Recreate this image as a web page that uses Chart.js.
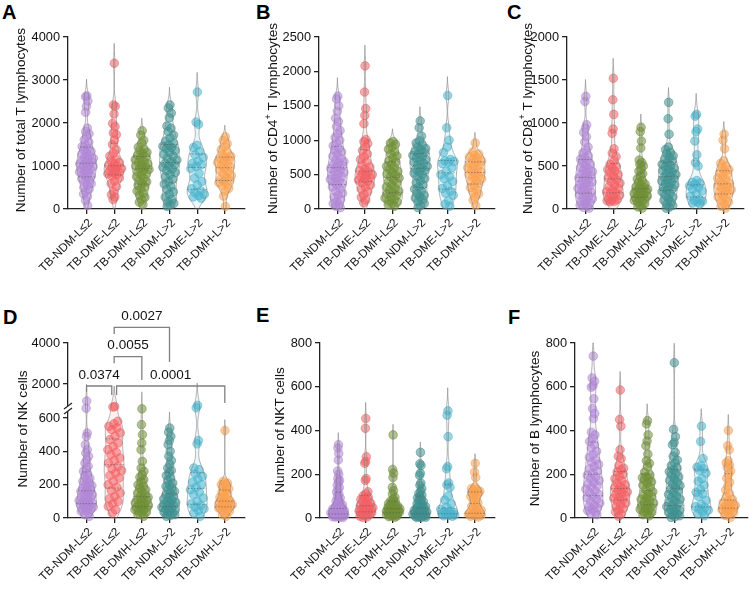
<!DOCTYPE html>
<html>
<head>
<meta charset="utf-8">
<script src="https://cdn.jsdelivr.net/npm/chart.js@4.4.1/dist/chart.umd.min.js"></script>
<style>
  html, body { margin: 0; padding: 0; background: #fff; }
  #fig { position: relative; width: 753px; height: 591px; overflow: hidden; background: #fff;
         font-family: "Liberation Sans", Arial, sans-serif; }
  #fig canvas { position: absolute; }
  .tag { position: absolute; font-weight: bold; font-size: 20px; line-height: 20px; color: #000; }
</style>
</head>
<body>
<div id="fig">
  <div class="tag" style="left:2px;top:2px">A</div>
  <div class="tag" style="left:256px;top:2px">B</div>
  <div class="tag" style="left:507px;top:2px">C</div>
  <div class="tag" style="left:3px;top:307px">D</div>
  <div class="tag" style="left:256px;top:305px">E</div>
  <div class="tag" style="left:508px;top:307px">F</div>
</div>
<script>
// groups on the x axis
const groups = ["TB-NDM-L≤2", "TB-DME-L≤2", "TB-DMH-L≤2", "TB-NDM-L>2", "TB-DME-L>2", "TB-DMH-L>2"];

// tick labels
const totalTTicks = [0, 1000, 2000, 3000, 4000];
const cd4Ticks = [0, 500, 1000, 1500, 2000, 2500];
const cd8Ticks = [0, 500, 1000, 1500, 2000];
const nkTicks = [0, 200, 400, 600, 2000, 4000];
const nktTicks = [0, 200, 400, 600, 800];
const bTicks = [0, 200, 400, 600, 800];

// values, one list per group
const totalT = [
  [2630, 2610, 2510, 2390, 2250, 1880, 1800, 1750, 1690, 1610, 1560, 1490, 1450, 1410, 1370, 1340, 1300, 1270, 1240, 1210, 1180, 1160, 1130, 1100, 1080, 1050, 1030, 1010, 990, 960, 940, 910, 880, 860, 830, 800, 770, 740, 700, 670, 630, 590, 550, 500, 460, 410, 350, 290, 200, 80],
  [3390, 2420, 2390, 2210, 1990, 1920, 1770, 1730, 1600, 1500, 1380, 1300, 1230, 1160, 1110, 1080, 1050, 1020, 990, 960, 940, 910, 890, 860, 840, 820, 800, 770, 720, 650, 590, 520, 400, 330, 280, 220],
  [1820, 1720, 1600, 1530, 1440, 1390, 1350, 1320, 1290, 1250, 1210, 1180, 1150, 1110, 1080, 1050, 1020, 1000, 980, 950, 920, 890, 860, 820, 790, 750, 710, 670, 630, 590, 550, 510, 470, 420, 370, 320, 270, 220, 160, 100],
  [2420, 2350, 2230, 2120, 1930, 1880, 1800, 1720, 1650, 1580, 1530, 1490, 1460, 1430, 1400, 1360, 1320, 1270, 1230, 1180, 1140, 1100, 1060, 1030, 1000, 970, 930, 890, 850, 800, 750, 690, 640, 580, 520, 460, 400, 340, 280, 220, 170, 130, 100, 60],
  [2720, 2020, 1970, 1480, 1430, 1340, 1260, 1200, 1110, 1060, 1030, 990, 940, 830, 720, 640, 560, 470, 420, 380, 340, 310, 280, 250],
  [1680, 1600, 1520, 1450, 1380, 1320, 1260, 1230, 1200, 1170, 1140, 1110, 1080, 1050, 1010, 980, 940, 900, 860, 820, 780, 740, 700, 670, 640, 610, 580, 540, 480, 420, 300, 60]
];
const cd4T = [
  [1640, 1600, 1500, 1420, 1320, 1270, 1200, 1140, 1090, 1040, 1000, 960, 920, 880, 850, 830, 800, 770, 740, 710, 690, 670, 650, 630, 610, 590, 570, 550, 530, 510, 490, 470, 450, 430, 410, 390, 370, 350, 320, 290, 260, 230, 200, 170, 140, 110, 80, 60, 40, 20],
  [2080, 1700, 1460, 1360, 1240, 1010, 980, 950, 900, 850, 800, 760, 720, 680, 640, 610, 580, 560, 540, 520, 500, 485, 470, 455, 440, 420, 400, 380, 350, 320, 290, 250, 210, 170, 130, 90],
  [980, 960, 940, 900, 870, 830, 800, 770, 740, 700, 680, 650, 620, 600, 580, 550, 530, 510, 490, 470, 450, 420, 400, 380, 350, 320, 300, 280, 260, 240, 220, 200, 180, 160, 140, 120, 100, 80, 60, 40],
  [1280, 1180, 1060, 990, 960, 930, 900, 880, 860, 840, 820, 800, 780, 760, 740, 720, 700, 680, 660, 640, 620, 600, 580, 560, 540, 520, 500, 470, 440, 410, 380, 350, 320, 290, 260, 230, 200, 180, 160, 140, 110, 80, 50, 20],
  [1650, 1180, 1000, 900, 820, 720, 700, 690, 680, 660, 600, 550, 500, 470, 440, 400, 340, 300, 260, 230, 200, 120, 70, 40],
  [960, 830, 800, 780, 760, 740, 720, 700, 680, 660, 640, 620, 600, 580, 560, 540, 520, 500, 480, 460, 440, 420, 400, 370, 340, 310, 280, 250, 220, 180, 130, 50]
];
const cd8T = [
  [1310, 1250, 980, 940, 890, 840, 780, 720, 680, 650, 620, 600, 580, 560, 540, 520, 500, 480, 465, 450, 435, 420, 405, 390, 375, 360, 345, 330, 315, 300, 285, 270, 255, 240, 225, 210, 195, 180, 165, 150, 135, 120, 105, 90, 75, 60, 45, 30, 20, 10],
  [1520, 1270, 1100, 930, 880, 700, 650, 610, 560, 520, 500, 480, 460, 440, 420, 400, 380, 360, 340, 320, 300, 280, 260, 240, 220, 200, 190, 180, 160, 140, 120, 110, 100, 95, 90, 85],
  [950, 900, 790, 710, 570, 540, 520, 500, 470, 440, 410, 380, 350, 330, 310, 290, 275, 260, 250, 240, 230, 220, 210, 200, 190, 180, 170, 160, 150, 140, 130, 120, 110, 100, 90, 80, 60, 40, 25, 10],
  [1240, 1050, 870, 720, 690, 660, 640, 620, 600, 580, 560, 540, 520, 505, 490, 475, 460, 445, 430, 415, 400, 385, 370, 355, 340, 325, 310, 295, 280, 265, 250, 235, 220, 200, 180, 160, 140, 120, 100, 80, 60, 40, 20, 10],
  [1100, 1080, 930, 900, 790, 630, 540, 500, 330, 310, 300, 290, 270, 250, 230, 210, 180, 150, 110, 100, 90, 80, 70, 60],
  [870, 800, 700, 560, 530, 500, 480, 460, 440, 420, 400, 380, 360, 340, 320, 300, 285, 270, 255, 240, 225, 210, 195, 180, 160, 140, 120, 100, 80, 60, 30, 10]
];
const nkCells = [
  [1170, 820, 510, 490, 440, 410, 390, 370, 350, 330, 310, 295, 280, 265, 250, 240, 230, 220, 210, 200, 195, 190, 180, 170, 165, 160, 150, 145, 140, 130, 125, 120, 110, 105, 100, 95, 90, 85, 80, 75, 70, 65, 60, 55, 50, 45, 40, 30, 20, 10],
  [900, 880, 580, 565, 550, 540, 530, 510, 490, 470, 450, 430, 410, 395, 380, 360, 345, 330, 310, 295, 285, 270, 255, 240, 220, 200, 185, 165, 150, 130, 115, 100, 85, 70, 50, 30],
  [790, 560, 500, 450, 410, 340, 300, 280, 260, 245, 230, 215, 200, 190, 180, 170, 160, 150, 140, 132, 125, 118, 110, 104, 98, 92, 86, 80, 75, 70, 65, 60, 55, 50, 45, 40, 35, 30, 20, 10],
  [540, 515, 490, 465, 440, 400, 370, 345, 320, 300, 285, 270, 255, 240, 225, 210, 200, 190, 180, 170, 160, 150, 140, 130, 122, 115, 108, 100, 94, 88, 82, 76, 70, 64, 58, 52, 46, 40, 35, 30, 25, 20, 15, 10],
  [960, 840, 465, 445, 300, 290, 265, 250, 235, 215, 200, 185, 170, 155, 140, 120, 100, 85, 75, 65, 55, 45, 30, 10],
  [525, 220, 210, 205, 200, 195, 185, 175, 165, 155, 145, 135, 125, 118, 110, 104, 98, 92, 88, 84, 80, 76, 72, 68, 64, 60, 55, 50, 40, 30, 20, 10]
];
const nktCells = [
  [335, 320, 295, 265, 215, 200, 180, 172, 165, 150, 140, 130, 120, 110, 100, 92, 85, 78, 72, 66, 60, 56, 52, 48, 45, 42, 39, 36, 34, 32, 30, 28, 26, 24, 22, 20, 19, 18, 16, 15, 14, 12, 11, 10, 9, 8, 6, 5, 4, 2],
  [455, 410, 280, 258, 250, 180, 172, 120, 110, 102, 95, 90, 85, 80, 74, 68, 63, 58, 54, 50, 47, 44, 41, 38, 35, 32, 29, 26, 23, 20, 17, 14, 11, 8, 5, 2],
  [380, 222, 205, 185, 140, 125, 110, 95, 85, 80, 75, 70, 66, 62, 58, 55, 52, 49, 46, 44, 42, 40, 38, 36, 34, 32, 30, 28, 26, 24, 22, 20, 18, 16, 14, 12, 10, 8, 6, 4],
  [300, 248, 240, 205, 195, 160, 150, 135, 122, 112, 105, 98, 92, 86, 80, 75, 70, 65, 60, 56, 52, 48, 45, 42, 39, 36, 33, 30, 28, 26, 24, 22, 20, 18, 16, 14, 12, 10, 8, 7, 6, 4, 3, 2],
  [490, 470, 372, 235, 225, 160, 152, 140, 100, 82, 65, 50, 40, 32, 28, 25, 22, 20, 18, 16, 14, 12, 10, 8],
  [250, 210, 185, 142, 135, 130, 126, 122, 118, 114, 110, 105, 98, 90, 80, 70, 62, 55, 48, 42, 36, 30, 26, 22, 20, 18, 16, 14, 12, 10, 8, 5]
];
const bCells = [
  [740, 640, 625, 605, 598, 545, 500, 478, 455, 392, 380, 365, 350, 335, 320, 305, 290, 278, 265, 255, 245, 235, 225, 215, 205, 196, 188, 180, 172, 164, 156, 148, 140, 132, 124, 116, 108, 100, 92, 84, 76, 68, 60, 52, 46, 40, 34, 28, 22, 15],
  [585, 450, 420, 312, 282, 272, 240, 228, 220, 210, 200, 190, 180, 170, 160, 152, 145, 138, 132, 126, 120, 114, 108, 102, 96, 90, 84, 76, 68, 60, 52, 44, 36, 28, 18, 8],
  [445, 430, 380, 352, 330, 292, 262, 250, 235, 210, 198, 190, 184, 178, 172, 165, 158, 150, 140, 130, 120, 112, 105, 98, 92, 86, 80, 74, 68, 62, 56, 50, 45, 40, 35, 30, 25, 20, 15, 10],
  [710, 405, 372, 345, 335, 300, 282, 265, 252, 240, 230, 220, 212, 204, 196, 188, 180, 172, 164, 156, 148, 140, 132, 124, 116, 108, 100, 93, 86, 79, 72, 65, 58, 52, 46, 40, 35, 30, 25, 20, 15, 10, 6, 3],
  [420, 350, 272, 240, 232, 225, 218, 205, 180, 168, 150, 130, 118, 110, 98, 80, 62, 52, 48, 42, 36, 28, 20, 10],
  [400, 330, 312, 262, 252, 242, 232, 215, 200, 182, 164, 146, 128, 112, 98, 86, 78, 72, 66, 62, 58, 54, 50, 46, 42, 38, 34, 30, 25, 20, 12, 2]
];

// comparisons shown on panel D
const nkBrackets = [
  { from: 1, to: 3, p: "0.0027" },
  { from: 1, to: 2, p: "0.0055" },
  { from: 0, to: 1, p: "0.0374" },
  { from: 1, to: 5, p: "0.0001" }
];

// ---- styling / layout ----
const groupColors = [[177, 134, 214], [242, 96, 100], [112, 143, 52], [62, 143, 143], [72, 181, 206], [250, 161, 80]];
const rgba = (c, a) => `rgba(${c[0]},${c[1]},${c[2]},${a})`;
const FONT = '"Liberation Sans", Arial, Helvetica, sans-serif';
const AXIS = "#222";
const W_HALF = 0.36;   // violin half width, in category units

// bracket geometry, px relative to the top of the plot area
const nkBracketLayout = [
  { bar: -15.7, left: -9, right: 19, text: -27, dx1: 0, dx2: 0 },
  { bar: 13.7, left: 20.3, right: 37, text: 2.7, dx1: 0, dx2: 0 },
  { bar: 43, left: 48.7, right: 52, text: 32.3, dx1: 0, dx2: -2.4 },
  { bar: 43, left: 52, right: 60, text: 32.3, dx1: 2.4, dx2: 0 }
];

Chart.defaults.font.family = FONT;
Chart.defaults.color = "#111";

// broken y axis for panel D: 0-636 on the lower part, 636-4000 above
const NK_BREAK = 636, NK_MAX = 4000, NK_LOW = 106 / 175;
function nkFrac(v) {
  return v <= NK_BREAK ? v / NK_BREAK * NK_LOW : NK_LOW + (v - NK_BREAK) / (NK_MAX - NK_BREAK) * (1 - NK_LOW);
}
function nkInv(t) {
  return t <= NK_LOW ? t / NK_LOW * NK_BREAK : NK_BREAK + (t - NK_LOW) / (1 - NK_LOW) * (NK_MAX - NK_BREAK);
}

class BrokenScale extends Chart.LinearScale {
  getPixelForValue(value) {
    return this.bottom - nkFrac(value) * (this.bottom - this.top);
  }
  getValueForPixel(pixel) {
    return nkInv((this.bottom - pixel) / (this.bottom - this.top));
  }
}
BrokenScale.id = "broken";
BrokenScale.defaults = Chart.LinearScale.defaults;
Chart.register(BrokenScale);

function quantile(sorted, q) {
  const pos = (sorted.length - 1) * q;
  const lo = Math.floor(pos), hi = Math.ceil(pos);
  return sorted[lo] + (sorted[hi] - sorted[lo]) * (pos - lo);
}

// kernel density on the axis fraction, so the break in D is handled too
function buildModel(vals, frac) {
  const t = vals.map(frac);
  const n = t.length;
  const mean = t.reduce((a, b) => a + b, 0) / n;
  const sd = Math.sqrt(t.reduce((a, b) => a + (b - mean) ** 2, 0) / (n - 1));
  const h = Math.max(0.5 * 1.06 * sd * Math.pow(n, -0.2), 0.018);
  const dens = (x) => t.reduce((s, ti) => s + Math.exp(-0.5 * ((x - ti) / h) ** 2), 0);
  const lo = Math.max(0, Math.min(...t) - 2.6 * h);
  const hi = Math.min(1, Math.max(...t) + 2.6 * h);
  const grid = [];
  let maxD = 0;
  for (let k = 0; k <= 140; k++) {
    const x = lo + (hi - lo) * k / 140;
    const d = dens(x);
    grid.push([x, d]);
    maxD = Math.max(maxD, d);
  }
  const s = vals.slice().sort((a, b) => a - b);
  const qs = [0.25, 0.5, 0.75].map((q) => frac(quantile(s, q)));
  return { t, dens, grid, maxD, qs };
}

function tracePath(ctx, xs, ys, m, gi, inv) {
  ctx.beginPath();
  m.grid.forEach(([t, d], k) => {
    const px = xs.getPixelForValue(gi + W_HALF * d / m.maxD);
    const py = ys.getPixelForValue(inv(t));
    if (k) ctx.lineTo(px, py); else ctx.moveTo(px, py);
  });
  for (let k = m.grid.length - 1; k >= 0; k--) {
    const [t, d] = m.grid[k];
    ctx.lineTo(xs.getPixelForValue(gi - W_HALF * d / m.maxD), ys.getPixelForValue(inv(t)));
  }
  ctx.closePath();
}

function violinPlugin(models, inv) {
  return {
    id: "violins",
    beforeDatasetsDraw(chart) {
      const { ctx, scales: { x, y } } = chart;
      models.forEach((m, gi) => {
        ctx.save();
        tracePath(ctx, x, y, m, gi, inv);
        ctx.fillStyle = rgba(groupColors[gi], 0.1);
        ctx.fill();
        ctx.restore();
      });
    },
    afterDatasetsDraw(chart) {
      const { ctx, scales: { x, y } } = chart;
      models.forEach((m, gi) => {
        ctx.save();
        tracePath(ctx, x, y, m, gi, inv);
        ctx.strokeStyle = "rgba(120,120,120,0.7)";
        ctx.lineWidth = 0.8;
        ctx.stroke();
        ctx.setLineDash([1.5, 1.5]);
        ctx.strokeStyle = "rgba(90,90,90,0.75)";
        m.qs.forEach((tq) => {
          const w = W_HALF * m.dens(tq) / m.maxD;
          const py = y.getPixelForValue(inv(tq));
          ctx.beginPath();
          ctx.moveTo(x.getPixelForValue(gi - w), py);
          ctx.lineTo(x.getPixelForValue(gi + w), py);
          ctx.stroke();
        });
        ctx.restore();
      });
    }
  };
}

// rotated y-axis title; parts with sup:true are drawn small and raised
function titlePlugin(parts, cx, cy) {
  return {
    id: "yTitle",
    afterDraw(chart) {
      const ctx = chart.ctx;
      const big = `13.6px ${FONT}`, small = `9px ${FONT}`;
      ctx.save();
      ctx.translate(cx, cy);
      ctx.rotate(-Math.PI / 2);
      ctx.fillStyle = "#111";
      ctx.textBaseline = "middle";
      ctx.textAlign = "left";
      const widths = parts.map((p) => { ctx.font = p.sup ? small : big; return ctx.measureText(p.text).width; });
      let x = -widths.reduce((a, b) => a + b, 0) / 2;
      parts.forEach((p, i) => {
        ctx.font = p.sup ? small : big;
        ctx.fillText(p.text, x, p.sup ? -5 : 0);
        x += widths[i];
      });
      ctx.restore();
    }
  };
}

const breakPlugin = {
  id: "axisBreak",
  afterDraw(chart) {
    const { ctx, scales: { y } } = chart;
    const xb = y.right;
    const yb = y.getPixelForValue(NK_BREAK);
    ctx.save();
    ctx.fillStyle = "#fff";
    ctx.fillRect(xb - 3, yb - 6, 6, 5);
    ctx.strokeStyle = AXIS;
    ctx.lineWidth = 1.2;
    [yb - 6, yb - 1].forEach((y0) => {
      ctx.beginPath();
      ctx.moveTo(xb - 4, y0 + 3);
      ctx.lineTo(xb + 4, y0 - 3);
      ctx.stroke();
    });
    ctx.restore();
  }
};

const bracketPlugin = {
  id: "brackets",
  afterDraw(chart) {
    const { ctx, chartArea: { top }, scales: { x } } = chart;
    ctx.save();
    ctx.strokeStyle = "rgb(128,128,128)";
    ctx.lineWidth = 1.3;
    ctx.fillStyle = "#111";
    ctx.font = `13.5px ${FONT}`;
    ctx.textAlign = "center";
    ctx.textBaseline = "middle";
    nkBrackets.forEach((b, k) => {
      const g = nkBracketLayout[k];
      const x1 = x.getPixelForValue(b.from) + g.dx1;
      const x2 = x.getPixelForValue(b.to) + g.dx2;
      const yb = top + g.bar;
      ctx.beginPath();
      ctx.moveTo(x1, top + g.left);
      ctx.lineTo(x1, yb);
      ctx.lineTo(x2, yb);
      ctx.lineTo(x2, top + g.right);
      ctx.stroke();
      ctx.fillText(b.p, (x1 + x2) / 2, top + g.text);
    });
    ctx.restore();
  }
};

const fig = document.getElementById("fig");

function makePanel(cfg) {
  const cv = document.createElement("canvas");
  cv.width = cfg.w;
  cv.height = cfg.h;
  cv.style.left = cfg.left + "px";
  cv.style.top = cfg.top + "px";
  fig.appendChild(cv);

  const frac = cfg.broken ? nkFrac : (v) => v / cfg.yMax;
  const inv = cfg.broken ? nkInv : (t) => t * cfg.yMax;
  const models = cfg.values.map((vals) => buildModel(vals, frac));

  const datasets = cfg.values.map((vals, gi) => {
    const m = models[gi];
    return {
      label: groups[gi],
      data: vals.map((v, i) => {
        const u = (((i + 1) * 0.618034) % 1) * 2 - 1;
        return { x: gi + 0.78 * W_HALF * (m.dens(m.t[i]) / m.maxD) * u, y: v };
      }),
      pointRadius: 4.3,
      pointBackgroundColor: rgba(groupColors[gi], 0.55),
      pointBorderColor: rgba(groupColors[gi], 0.75),
      pointBorderWidth: 0.7,
      clip: false
    };
  });

  const plugins = [violinPlugin(models, inv), titlePlugin(cfg.title, cfg.titleX, cfg.titleY)]
    .concat(cfg.extra || []);

  new Chart(cv, {
    type: "scatter",
    data: { datasets },
    options: {
      responsive: false,
      animation: false,
      devicePixelRatio: 1,
      layout: { padding: { left: 0, top: cfg.T, right: cfg.R, bottom: 0 } },
      plugins: { legend: { display: false }, tooltip: { enabled: false } },
      scales: {
        x: {
          type: "linear",
          min: -0.67,
          max: 5.73,
          afterBuildTicks: (s) => { s.ticks = groups.map((_, i) => ({ value: i })); },
          afterFit: (s) => { s.height = cfg.xH; },
          ticks: {
            autoSkip: false, minRotation: 45, maxRotation: 45, padding: 2, labelOffset: 4,
            font: { size: 11.8 }, color: "#111",
            callback: (v) => groups[v]
          },
          grid: { drawOnChartArea: false, drawTicks: true, tickLength: 5, color: AXIS, lineWidth: 1.3 },
          border: { color: AXIS, width: 1.3 }
        },
        y: {
          type: cfg.broken ? "broken" : "linear",
          min: 0,
          max: cfg.broken ? NK_MAX : cfg.yMax,
          afterBuildTicks: (s) => { s.ticks = cfg.ticks.map((v) => ({ value: v })); },
          afterFit: (s) => { s.width = cfg.yW; },
          ticks: { autoSkip: false, padding: 3, font: { size: 12.8 }, color: "#111", callback: (v) => String(v) },
          grid: { drawOnChartArea: false, drawTicks: true, tickLength: 5, color: AXIS, lineWidth: 1.3 },
          border: { color: AXIS, width: 1.3 }
        }
      }
    },
    plugins
  });
}

makePanel({ left: 0, top: 0, w: 250, h: 290, yW: 68, R: 5, T: 37, xH: 81, titleX: 21.7, titleY: 120,
  title: [{ text: "Number of total T lymphocytes" }], values: totalT, ticks: totalTTicks, yMax: 4000 });
makePanel({ left: 250, top: 0, w: 250, h: 290, yW: 69, R: 4, T: 37, xH: 81, titleX: 23.3, titleY: 118.5,
  title: [{ text: "Number of CD4" }, { text: "+", sup: true }, { text: " T lymphocytes" }],
  values: cd4T, ticks: cd4Ticks, yMax: 2500 });
makePanel({ left: 500, top: 0, w: 253, h: 290, yW: 67, R: 9, T: 37, xH: 81, titleX: 28, titleY: 118.5,
  title: [{ text: "Number of CD8" }, { text: "+", sup: true }, { text: " T lymphocytes" }],
  values: cd8T, ticks: cd8Ticks, yMax: 2000 });
makePanel({ left: 0, top: 290, w: 250, h: 301, yW: 68, R: 5, T: 53, xH: 73, titleX: 23, titleY: 139,
  title: [{ text: "Number of NK cells" }], values: nkCells, ticks: nkTicks, broken: true,
  extra: [breakPlugin, bracketPlugin] });
makePanel({ left: 250, top: 290, w: 250, h: 301, yW: 70, R: 3, T: 53, xH: 73, titleX: 30, titleY: 140,
  title: [{ text: "Number of NKT cells" }], values: nktCells, ticks: nktTicks, yMax: 800 });
makePanel({ left: 500, top: 290, w: 253, h: 301, yW: 75, R: 1, T: 53, xH: 73, titleX: 35, titleY: 138.5,
  title: [{ text: "Number of B lymphocytes" }], values: bCells, ticks: bTicks, yMax: 800 });
</script>
</body>
</html>
